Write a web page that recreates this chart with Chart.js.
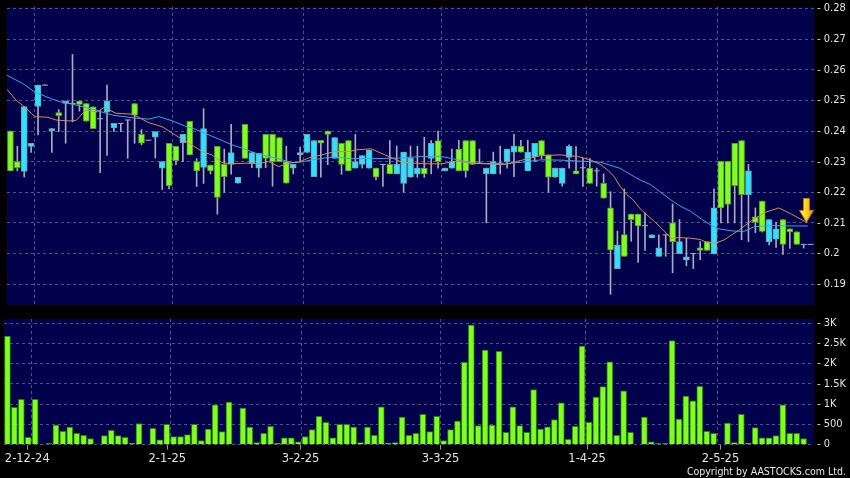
<!DOCTYPE html>
<html>
<head>
<meta charset="utf-8">
<script src="https://cdn.jsdelivr.net/npm/chart.js@4.4.1/dist/chart.umd.min.js"></script>
<style>
  html, body { margin: 0; padding: 0; background: #000; }
  #wrap { position: relative; width: 850px; height: 478px; overflow: hidden; background: #000; }
  canvas { position: absolute; left: 0; }
  #priceChart { top: 0; }
  #volChart { top: 312px; }
  #copy { position: absolute; right: 4px; top: 465px; line-height: 12px; color: #e8e8e8;
          font: 10.5px 'DejaVu Sans Condensed', 'DejaVu Sans', sans-serif; }
</style>
</head>
<body>
<div id="wrap">
  <canvas id="priceChart" width="850" height="312"></canvas>
  <canvas id="volChart" width="850" height="166"></canvas>
  <div id="copy">Copyright by AASTOCKS.com Ltd.</div>
</div>
<script>
// daily candles, index 0 = 27-11-24
const openP = [
  .240, .230, .2268, .235, .248, .255, .240, .246, .249, .249,
  .2498, .249, .2479, .244, .2462, .241, .2425, .2436, .249, .2389,
  .237, .238, .2279, .236, .235, .2362, .2432, .230, .2281, .2289,
  .235, .2291, .2291, .223, .2422, .2295, .2279, .2389, .2389, .2379,
  .230, .2279, .2322, .233, .2251, .237, .240, .2311, .236, .2369,
  .2279, .2291, .2279, .2279, .2291, .2291, .226, .2229, .2249, .226,
  .2279, .2311, .2369, .227, .2279, .2341, .2369, .2369, .2295, .226,
  .226, .2295, .230, .2331, .2351, .227, .2316, .2369, .2322, .2249,
  .2229, .2314, .227, .228, .2279, .227, .2229, .2149, .1951, .2062,
  .2129, .2129, .2091, .2051, .1991, .2061, .210, .200, .1979, .200,
  .2019, .2039, .1999, .2301, .2301, .236, .2369, .2192, .2120, .2171,
  .2038, .2047, .2111, .2081, .2071, .203, .203
];
const highP = [
  .240, .235, .248, .236, .255, .255, .2408, .247, .2498, .265,
  .2498, .249, .2479, .2468, .255, .2425, .2425, .2436, .249, .2405,
  .237, .2398, .230, .236, .235, .2389, .2432, .231, .2473, .2289,
  .235, .2341, .2422, .2249, .2422, .233, .2327, .2389, .2389, .2379,
  .2351, .2291, .2348, .2389, .2369, .237, .240, .2379, .236, .2369,
  .2389, .232, .2338, .2279, .2291, .2369, .2351, .2331, .2351, .2351,
  .238, .2369, .240, .2279, .2341, .237, .2369, .2369, .2341, .2279,
  .2331, .2351, .2341, .2389, .237, .237, .236, .2369, .2322, .2279,
  .2279, .2355, .2349, .2312, .231, .2279, .226, .2202, .2073, .2211,
  .2129, .2129, .2133, .2061, .2061, .2061, .2162, .2111, .205, .200,
  .2039, .2039, .2211, .2301, .2301, .236, .2369, .2291, .2149, .2171,
  .2111, .2101, .2111, .2081, .2071, .203, .203
];
const lowP = [
  .227, .227, .225, .233, .2387, .255, .233, .2398, .236, .243,
  .2465, .2432, .2408, .2264, .232, .2398, .2398, .2311, .236, .2355,
  .237, .2312, .2209, .2211, .229, .230, .2322, .2219, .2229, .226,
  .2129, .220, .2259, .223, .2311, .228, .225, .228, .222, .230,
  .223, .226, .230, .233, .2251, .2249, .229, .2311, .2259, .227,
  .2279, .2279, .2279, .224, .2219, .226, .226, .220, .2249, .2249,
  .2249, .226, .2279, .227, .2279, .227, .2249, .2291, .2295, .210,
  .226, .226, .2279, .2251, .2331, .227, .230, .231, .220, .2249,
  .222, .2279, .226, .2219, .2229, .222, .2181, .1867, .1951, .1991,
  .204, .1971, .201, .2051, .1991, .1991, .1937, .200, .196, .1951,
  .198, .201, .1999, .210, .210, .210, .2045, .2039, .2068, .2070,
  .2028, .2020, .1997, .2017, .2030, .2018, .203
];
const closeP = [
  .227, .228, .248, .236, .255, .255, .2408, .245, .2498, .249,
  .2487, .2432, .2408, .244, .2498, .2425, .2425, .2436, .2452, .236,
  .237, .2398, .230, .2222, .2303, .2389, .2322, .227, .2408, .227,
  .2183, .2251, .233, .2249, .2311, .233, .2327, .2311, .230, .230,
  .223, .2291, .233, .2389, .2369, .236, .2389, .2379, .2291, .227,
  .230, .232, .2338, .2249, .2291, .226, .2292, .2331, .2311, .2279,
  .226, .236, .230, .2279, .230, .227, .227, .2291, .2295, .2279,
  .230, .2295, .2341, .2351, .2331, .2331, .236, .232, .2249, .2279,
  .2279, .235, .226, .228, .2229, .227, .2181, .2012, .2028, .1991,
  .2111, .209, .2091, .2061, .2019, .2061, .2039, .2039, .1989, .200,
  .201, .201, .2149, .2149, .216, .2222, .2192, .227, .2102, .2072,
  .2111, .2081, .2030, .2071, .2030, .203, .203
];
const volume = [
  2680, 920, 1120, 180, 1120, 10, 25, 480, 330, 430,
  280, 230, 150, 0, 220, 350, 220, 180, 30, 520,
  0, 400, 120, 500, 200, 200, 250, 500, 100, 380,
  980, 320, 1050, 8, 900, 430, 50, 280, 450, 30,
  170, 170, 70, 200, 370, 700, 550, 170, 500, 500,
  430, 50, 430, 230, 930, 30, 50, 680, 230, 280,
  750, 320, 700, 100, 370, 580, 2030, 2950, 470, 2330,
  480, 2300, 300, 930, 470, 300, 1360, 380, 440, 620,
  1030, 130, 450, 2430, 550, 1170, 1430, 2040, 230, 1330,
  300, 0, 680, 70, 25, 25, 2570, 630, 1200, 1080,
  1440, 330, 280, 0, 530, 50, 750, 30, 420, 170,
  170, 220, 980, 280, 280, 150, 0
];
// moving averages: [day index, price]
const maShort = [
  [-0.5, .2536], [0.8, .2501], [2.3, .2474], [3.5, .2447], [5.4, .2445], [6.6, .2436], [8.5, .2433],
  [9.5, .2434], [10.9, .2468], [12.6, .2463], [13.6, .2477], [15.3, .2458], [17.7, .2455], [20.1, .2427],
  [22, .2414], [23.9, .2387], [25.9, .236], [27.8, .2333], [29.2, .2322], [30.7, .2297], [32.1, .2293],
  [34.1, .2295], [36, .2293], [37.4, .2301], [38.9, .2284], [40.3, .2295], [41.8, .2298], [43.2, .2312],
  [45.1, .2322], [47, .2333], [49, .2333], [50.4, .2339], [52.3, .2342], [54.3, .2322], [56.7, .2299],
  [58.6, .2295], [60.5, .2293], [62.5, .2293], [64.4, .2301], [67, .2295], [71.6, .229], [74, .2304],
  [76.9, .232], [79.8, .2322], [82.2, .2317], [84.1, .2306], [85.6, .229], [86.5, .2274], [87.5, .2252],
  [88.4, .2219], [89.4, .2192], [90.3, .2175], [91.3, .2146], [93.3, .2106], [94.5, .208], [95.8, .205],
  [97.1, .2052], [98.6, .205], [100, .2046], [101, .2036], [102.4, .2035], [103.6, .2046], [104.3, .2057],
  [105.6, .2076], [107.6, .211], [109.5, .2135], [111.4, .2149], [113.3, .2128], [115.4, .2102]
];
const maLong = [
  [-0.5, .2582], [1.8, .2555], [3.5, .2528], [5.2, .2512], [7.1, .2496], [9.5, .2485], [12.4, .2468],
  [14.8, .2452], [18.2, .2442], [20.1, .2439], [21.5, .2447], [23.5, .2433], [25.2, .2417], [26.8, .2406],
  [28.8, .2387], [30.7, .2369], [32.1, .2355], [33.6, .2344], [35.5, .2328], [37.4, .2317], [39.4, .2306],
  [40.8, .2297], [42.2, .2299], [43.7, .2306], [46.6, .2315], [49.5, .231], [53, .231], [56.7, .2312],
  [59.6, .2317], [62.5, .2317], [64.4, .2308], [67.3, .2295], [71.6, .2293], [74, .2298], [76.9, .2306],
  [79.8, .2305], [85.6, .2298], [88.4, .2278], [89.9, .2258], [91.3, .224], [92.8, .2225], [95.7, .2176],
  [97.1, .2155], [98.6, .2138], [100.2, .2112], [101.4, .2095], [102.6, .2081], [104.6, .2074],
  [106.3, .2072], [107.9, .2088], [110.7, .2091], [113.2, .209], [115.6, .209]
];
const arrowAt = [115.4, .2141];

const priceTicks = [.19, .20, .21, .22, .23, .24, .25, .26, .27, .28];
const priceTickLabels = ['0.19', '0.2', '0.21', '0.22', '0.23', '0.24', '0.25', '0.26', '0.27', '0.28'];
const volTicks = [0, 500, 1000, 1500, 2000, 2500, 3000];
const volTickLabels = ['0', '500', '1K', '1.5K', '2K', '2.5K', '3K'];
const dateLabels = ['2-12-24', '2-1-25', '3-2-25', '3-3-25', '1-4-25', '2-5-25'];
const datePos = [2.86, 23.08, 42.34, 62.56, 83.73, 102.99];
const gridPos = [3.5, 23.5, 42.5, 62.5, 83.5, 102.5];

const NAVY = '#01014c';
const GRID = '#50508a';
const GREEN = '#7fff1e';
const GREEN_EDGE = '#5e9a34';
const CYAN = '#2ae4ff';
const CYAN_EDGE = '#7c9ea8';
const WICK = '#a9a9bb';
const ORANGE = '#e0874c';
const BLUE = '#3ea4ee';
const X_MIN = -0.5, X_MAX = 116.5;

Chart.defaults.font.family = "'DejaVu Sans Condensed', 'DejaVu Sans', sans-serif";
Chart.defaults.font.size = 11;
Chart.defaults.color = '#e2e2e2';

const plotBg = {
  id: 'plotBg',
  beforeDraw(chart) {
    const { ctx, chartArea: a } = chart;
    ctx.save();
    ctx.fillStyle = NAVY;
    ctx.fillRect(a.left, a.top, a.right - a.left, a.bottom - a.top);
    ctx.restore();
  }
};

function makeArrow() {
  const c = document.createElement('canvas');
  c.width = 15; c.height = 25;
  const g = c.getContext('2d');
  const grad = g.createLinearGradient(0, 0, 15, 0);
  grad.addColorStop(0, '#fff49a');
  grad.addColorStop(0.5, '#ffd21c');
  grad.addColorStop(1, '#e99500');
  g.beginPath();
  g.moveTo(4.5, 0.5); g.lineTo(10.5, 0.5); g.lineTo(10.5, 12.5); g.lineTo(14.5, 12.5);
  g.lineTo(7.5, 24.5); g.lineTo(0.5, 12.5); g.lineTo(4.5, 12.5); g.closePath();
  g.fillStyle = grad; g.fill();
  g.strokeStyle = '#b77300'; g.lineWidth = 1; g.stroke();
  return c;
}

// keep the y axis from pushing the plot area in for its end labels
const fixY = s => { s.width = 36; s.paddingTop = 0; s.paddingBottom = 0; };

const days = openP.map((_, i) => i);
const wickData = days.map(i => ({ x: i, y: [lowP[i], highP[i]] }));
const bodyData = days.filter(i => openP[i] !== closeP[i]).map(i => ({ x: i, y: [openP[i], closeP[i]] }));
const dojiData = days.filter(i => openP[i] === closeP[i]).map(i => ({ x: i, y: openP[i] }));
const isUp = ctx => ctx.raw && ctx.raw.y[1] > ctx.raw.y[0];

const gridAxis = {
  type: 'linear', min: X_MIN, max: X_MAX, offset: false,
  afterBuildTicks: s => { s.ticks = gridPos.map(v => ({ value: v })); },
  afterFit: s => { s.height = 0; s.paddingLeft = 0; s.paddingRight = 0; },
  ticks: { display: false },
  grid: { color: GRID, drawTicks: false, offset: false },
  border: { display: false, dash: [3, 3] }
};

const priceChart = new Chart(document.getElementById('priceChart'), {
  type: 'bar',
  data: {
    datasets: [
      { type: 'line', data: [{ x: arrowAt[0], y: arrowAt[1] }], showLine: false,
        pointStyle: makeArrow(), pointRadius: 6, order: 0 },
      { type: 'line', data: maShort.map(p => ({ x: p[0], y: p[1] })), borderColor: ORANGE,
        borderWidth: 1, pointRadius: 0, tension: 0, order: 1 },
      { type: 'line', data: maLong.map(p => ({ x: p[0], y: p[1] })), borderColor: BLUE,
        borderWidth: 1, pointRadius: 0, tension: 0, order: 1 },
      { type: 'line', data: dojiData, showLine: false, pointStyle: 'line', pointRadius: 3,
        borderColor: WICK, borderWidth: 1, order: 2 },
      { data: bodyData, grouped: false, barThickness: 6, borderWidth: 1, borderSkipped: false,
        backgroundColor: c => isUp(c) ? CYAN : GREEN,
        borderColor: c => isUp(c) ? CYAN_EDGE : GREEN_EDGE, order: 3 },
      { data: wickData, grouped: false, barThickness: 1, backgroundColor: WICK, borderWidth: 0, order: 4 }
    ]
  },
  options: {
    responsive: false,
    animation: false,
    events: [],
    layout: { padding: { left: 4, top: 6, right: 0, bottom: 6 } },
    plugins: { legend: { display: false }, tooltip: { enabled: false } },
    scales: {
      x: gridAxis,
      y: {
        position: 'right', min: 0.1832, max: 0.2805,
        afterBuildTicks: s => { s.ticks = priceTicks.map(v => ({ value: v })); },
        afterFit: fixY,
        ticks: { padding: 3, callback: (v, i) => '- ' + priceTickLabels[i] },
        grid: { color: GRID, drawTicks: false },
        border: { display: false, dash: [3, 3] }
      }
    }
  },
  plugins: [plotBg]
});

const volChart = new Chart(document.getElementById('volChart'), {
  type: 'bar',
  data: {
    datasets: [
      { data: volume.map((v, i) => ({ x: i, y: v })), barThickness: 6, borderWidth: 1,
        backgroundColor: GREEN, borderColor: '#2f7c14' }
    ]
  },
  options: {
    responsive: false,
    animation: false,
    events: [],
    layout: { padding: { left: 4, top: 7, right: 0, bottom: 9.4 } },
    plugins: { legend: { display: false }, tooltip: { enabled: false } },
    scales: {
      x: gridAxis,
      xl: {
        type: 'linear', position: 'bottom', min: X_MIN, max: X_MAX, offset: false,
        afterBuildTicks: s => { s.ticks = datePos.map(v => ({ value: v })); },
        afterFit: s => { s.height = 24; s.paddingLeft = 0; s.paddingRight = 0; },
        ticks: { autoSkip: false, maxRotation: 0, padding: 3, font: { size: 11.5, family: "'DejaVu Sans', sans-serif" },
                 callback: (v, i) => dateLabels[i] },
        grid: { drawOnChartArea: false, tickLength: 5, tickColor: '#9a9a9a', offset: false },
        border: { display: false }
      },
      y: {
        position: 'right', min: 0, max: 3100,
        afterBuildTicks: s => { s.ticks = volTicks.map(v => ({ value: v })); },
        afterFit: fixY,
        ticks: { padding: 3, callback: (v, i) => '- ' + volTickLabels[i] },
        grid: { color: GRID, drawTicks: false },
        border: { display: false, dash: [3, 3] }
      }
    }
  },
  plugins: [plotBg]
});
</script>
</body>
</html>
